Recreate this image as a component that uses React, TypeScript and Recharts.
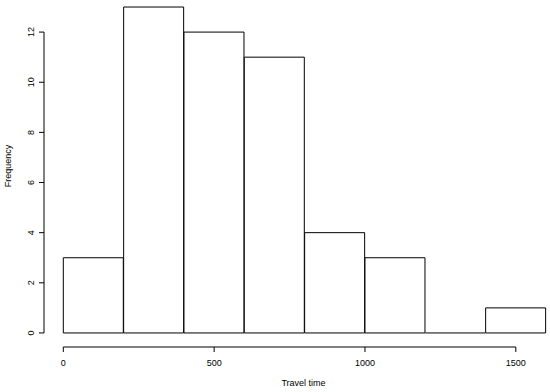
import { BarChart, Bar, XAxis, YAxis, ReferenceLine } from 'recharts';

// histogram bins (width 200), mids used on the numeric x axis
const binMids = [100, 300, 500, 700, 900, 1100, 1300, 1500];
const counts = [3, 13, 12, 11, 4, 3, 0, 1];
const xTicks = [0, 500, 1000, 1500];
const yTicks = [0, 2, 4, 6, 8, 10, 12];

const data = binMids.map((mid, i) => ({ mid, count: counts[i] }));

const FONT = '"Liberation Sans", Arial, sans-serif';

// path instead of rect so an empty bin still leaves its base line
const HistBar = (props: any) => {
  const { x, y, width, height } = props;
  if (!height) {
    return <path d={`M${x},${y}h${width}`} stroke="#000" strokeWidth={1} />;
  }
  return (
    <path
      d={`M${x},${y}h${width}v${height}h${-width}Z`}
      fill="#fff"
      stroke="#000"
      strokeWidth={1}
    />
  );
};

const YTick = ({ x, y, payload }: any) => (
  <text
    x={x - 3}
    y={y}
    transform={`rotate(-90, ${x - 3}, ${y})`}
    textAnchor="middle"
    fontSize={9}
    fontFamily={FONT}
    fill="#000"
  >
    {payload.value}
  </text>
);

export default function App() {
  return (
    <div style={{ position: 'absolute', left: 0, top: 0, background: '#fff' }}>
      <BarChart
        width={550}
        height={392}
        data={data}
        margin={{ top: 0, right: 1, left: 0, bottom: 0 }}
        barCategoryGap={0}
        barGap={0}
      >
        <XAxis
          dataKey="mid"
          type="number"
          domain={[-64, 1610]}
          allowDataOverflow
          ticks={xTicks}
          height={45}
          axisLine={false}
          tickLine={{ stroke: '#000' }}
          tickSize={5}
          tickMargin={8}
          tick={{ fontSize: 9, fontFamily: FONT, fill: '#000' }}
          label={{
            content: (p: any) => (
              <text
                x={p.viewBox.x + p.viewBox.width / 2 + 7}
                y={386}
                textAnchor="middle"
                fontSize={9}
                fontFamily={FONT}
                fill="#000"
              >
                Travel time
              </text>
            ),
          }}
        />
        <YAxis
          type="number"
          domain={[-0.56, 13.28]}
          allowDataOverflow
          ticks={yTicks}
          width={44}
          axisLine={false}
          tickLine={{ stroke: '#000' }}
          tickSize={5}
          tick={<YTick />}
          label={{
            content: () => (
              <text
                x={11}
                y={166}
                transform="rotate(-90, 11, 166)"
                textAnchor="middle"
                fontSize={9}
                fontFamily={FONT}
                fill="#000"
              >
                Frequency
              </text>
            ),
          }}
        />
        <Bar dataKey="count" shape={<HistBar />} isAnimationActive={false} />
        <ReferenceLine
          segment={[{ x: -64, y: 0 }, { x: -64, y: 12 }]}
          stroke="#000"
          strokeWidth={1}
          ifOverflow="visible"
        />
        <ReferenceLine
          segment={[{ x: 0, y: -0.56 }, { x: 1500, y: -0.56 }]}
          stroke="#000"
          strokeWidth={1}
          ifOverflow="visible"
        />
      </BarChart>
    </div>
  );
}
